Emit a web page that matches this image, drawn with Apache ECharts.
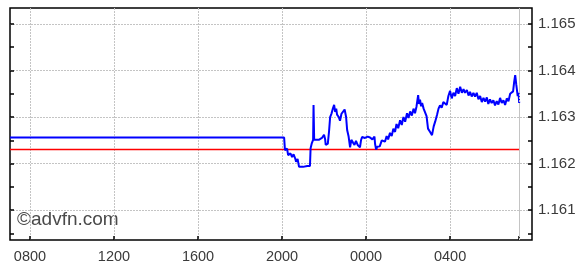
<!DOCTYPE html>
<html>
<head>
<meta charset="utf-8">
<script src="https://cdn.jsdelivr.net/npm/echarts@6/dist/echarts.min.js"></script>
<style>
  html, body { margin: 0; padding: 0; background: #fff; }
  #chart { width: 579px; height: 266px; }
</style>
</head>
<body>
<div id="chart"></div>
<script>
// hours since midnight of day 1 (24+ = next day)
var times = [
  7.05, 20.10, 20.14, 20.24, 20.29, 20.40, 20.48, 20.55, 20.62, 20.67, 20.74, 20.81, 21.00, 21.20, 21.33,
  21.36, 21.42, 21.48, 21.50, 21.53, 21.62, 21.75, 21.90, 22.00, 22.05, 22.08, 22.18, 22.24, 22.29, 22.36,
  22.42, 22.48, 22.53, 22.58, 22.62, 22.70, 22.76, 22.83, 22.90, 22.98, 23.05, 23.10, 23.17, 23.24, 23.30,
  23.38, 23.45, 23.52, 23.60, 23.71, 23.76, 23.81, 23.95, 24.08, 24.19, 24.30, 24.40, 24.43, 24.48, 24.53,
  24.57, 24.65, 24.75, 24.90, 24.98, 25.05, 25.14, 25.22, 25.30, 25.38, 25.45, 25.53, 25.62, 25.70, 25.78,
  25.86, 25.95, 26.02, 26.10, 26.18, 26.26, 26.33, 26.40, 26.48, 26.52, 26.57, 26.62, 26.67, 26.74, 26.81,
  26.88, 26.95, 27.05, 27.14, 27.22, 27.29, 27.38, 27.45, 27.52, 27.60, 27.68, 27.76, 27.84, 27.92, 28.00,
  28.08, 28.16, 28.24, 28.32, 28.40, 28.48, 28.56, 28.64, 28.71, 28.80, 28.88, 28.95, 29.03, 29.11, 29.19,
  29.27, 29.35, 29.43, 29.51, 29.59, 29.67, 29.75, 29.82, 29.90, 29.98, 30.06, 30.14, 30.22, 30.30, 30.38,
  30.46, 30.54, 30.62, 30.70, 30.78, 30.86, 30.93, 31.00, 31.05, 31.10, 31.15, 31.19, 31.22, 31.26, 31.29
];
var prices = [
  1.16256, 1.16256, 1.16229, 1.16232, 1.16218, 1.16222, 1.16214, 1.16220, 1.16212, 1.16204, 1.16210, 1.16193, 1.16193, 1.16195, 1.16195,
  1.16233, 1.16244, 1.16251, 1.16326, 1.16251, 1.16253, 1.16251, 1.16255, 1.16262, 1.16253, 1.16240, 1.16243, 1.16270, 1.16300, 1.16308,
  1.16318, 1.16326, 1.16311, 1.16318, 1.16305, 1.16300, 1.16292, 1.16307, 1.16311, 1.16316, 1.16300, 1.16272, 1.16258, 1.16235, 1.16251,
  1.16245, 1.16240, 1.16249, 1.16240, 1.16235, 1.16250, 1.16257, 1.16255, 1.16258, 1.16256, 1.16252, 1.16258, 1.16242, 1.16230, 1.16236,
  1.16240, 1.16237, 1.16250, 1.16247, 1.16259, 1.16252, 1.16266, 1.16259, 1.16275, 1.16268, 1.16285, 1.16276, 1.16293, 1.16283, 1.16300,
  1.16290, 1.16308, 1.16298, 1.16312, 1.16303, 1.16318, 1.16308, 1.16322, 1.16347, 1.16328, 1.16337, 1.16323, 1.16330, 1.16318, 1.16322,
  1.16302, 1.16275, 1.16268, 1.16261, 1.16280, 1.16290, 1.16305, 1.16318, 1.16325, 1.16320, 1.16332, 1.16334, 1.16326, 1.16345, 1.16356,
  1.16340, 1.16352, 1.16345, 1.16362, 1.16350, 1.16365, 1.16352, 1.16360, 1.16352, 1.16358, 1.16346, 1.16354, 1.16344, 1.16352, 1.16344,
  1.16352, 1.16338, 1.16345, 1.16332, 1.16341, 1.16333, 1.16342, 1.16328, 1.16338, 1.16330, 1.16336, 1.16325, 1.16334, 1.16327, 1.16341,
  1.16330, 1.16336, 1.16326, 1.16340, 1.16334, 1.16350, 1.16352, 1.16355, 1.16375, 1.16390, 1.16370, 1.16366, 1.16345, 1.16352, 1.16330
];
var prevClose = 1.1623;
var xTicks = [8, 12, 16, 20, 24, 28];
var yLabels = [1.161, 1.162, 1.163, 1.164, 1.165];
var yTicks = [1.1605, 1.161, 1.1615, 1.162, 1.1625, 1.163, 1.1635, 1.164, 1.1645, 1.165];

var xMin = 7.05, xMax = 31.9;
var yMin = 1.16036, yMax = 1.16534;
var lastT = times[times.length - 1];
var labelFont = '"Liberation Sans", Arial';

var chart = echarts.init(document.getElementById('chart'));

var lineData = times.map(function (t, i) { return [t, prices[i]]; });

var option = {
  animation: false,
  backgroundColor: '#fff',
  grid: {
    left: 10, right: 47, top: 8, bottom: 26, outerBoundsMode: 'none', containLabel: false,
    show: true, borderColor: '#000', borderWidth: 1.5, backgroundColor: 'transparent'
  },
  xAxis: [{
    type: 'value', min: xMin, max: xMax, position: 'bottom',
    axisLine: { show: false },
    axisTick: { show: true, inside: true, length: 4, customValues: xTicks.concat([lastT]), lineStyle: { color: '#000', width: 1.5 } },
    axisLabel: {
      customValues: xTicks, margin: 9, color: '#3a3a3a', fontFamily: labelFont, fontSize: 14.5,
      formatter: function (v) { var h = Math.round(v) % 24; return (h < 10 ? '0' : '') + h + '00'; }
    },
    splitLine: { show: true, lineStyle: { color: '#c4c4c4', type: [2, 1], width: 1 } }
  }],
  yAxis: [{
    type: 'value', min: yMin, max: yMax, position: 'right',
    axisLine: { show: false },
    axisTick: { show: true, inside: true, length: 4, customValues: yTicks, lineStyle: { color: '#000', width: 1.5 } },
    axisLabel: {
      customValues: yLabels, margin: 6, color: '#3a3a3a', fontFamily: labelFont, fontSize: 15,
      formatter: function (v) { return v.toFixed(3); }
    },
    splitLine: { show: false }
  }, {
    type: 'value', min: yMin, max: yMax, position: 'right',
    axisLine: { show: false },
    axisTick: { show: false, customValues: yLabels },
    axisLabel: { show: false, customValues: yLabels },
    splitLine: { show: true, lineStyle: { color: '#c4c4c4', type: [2, 1], width: 1 } }
  }, {
    type: 'value', min: yMin, max: yMax, position: 'left',
    axisLine: { show: false },
    axisTick: { show: true, inside: true, length: 4, customValues: yTicks, lineStyle: { color: '#000', width: 1.5 } },
    axisLabel: { show: false },
    splitLine: { show: false }
  }],
  graphic: [{
    type: 'text', left: 17, top: 210,
    style: { text: '\u00a9advfn.com', fontSize: 19, fontFamily: 'Liberation Sans, Arial', fill: '#4a4a4a' }
  }],
  series: [{
    type: 'line', data: [[xMin, prevClose], [lastT, prevClose]], yAxisIndex: 0,
    symbol: 'none', lineStyle: { color: '#ff0000', width: 1.5 }, silent: true
  }, {
    type: 'line', data: lineData, yAxisIndex: 0,
    symbol: 'none', lineStyle: { color: '#0000ff', width: 2 },
    markLine: {
      silent: true, symbol: 'none', label: { show: false },
      lineStyle: { color: '#c4c4c4', type: [2, 1], width: 1 },
      data: [{ xAxis: lastT }]
    }
  }]
};
chart.setOption(option);
</script>
</body>
</html>
